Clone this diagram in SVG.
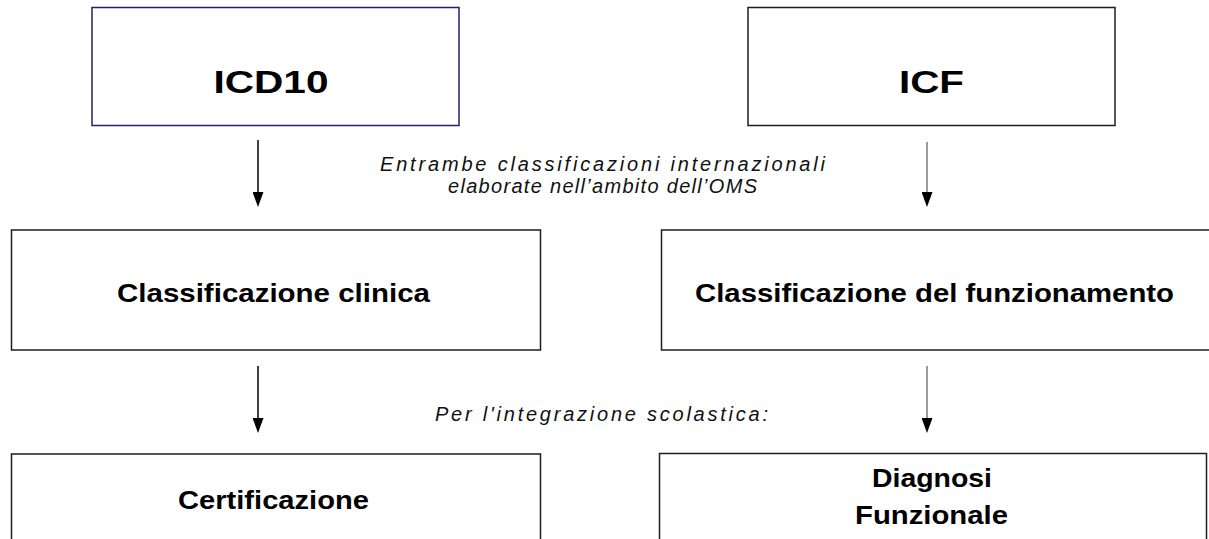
<svg xmlns="http://www.w3.org/2000/svg" width="1209" height="539" viewBox="0 0 1209 539">
  <style>
    .box { fill: #ffffff; stroke: #1e1e1e; stroke-width: 1.5; }
    .navy { stroke: #20206e; }
    .title { font-family: "Liberation Sans", Arial, sans-serif; font-weight: bold; font-size: 32px; fill: #000; text-anchor: middle; }
    .label { font-family: "Liberation Sans", Arial, sans-serif; font-weight: bold; font-size: 25px; fill: #000; text-anchor: middle; }
    .note { font-family: "Liberation Sans", Arial, sans-serif; font-style: italic; font-size: 20px; fill: #111; text-anchor: middle; }
    .conn { stroke: #000; stroke-width: 1.5; fill: none; }
    .gray { stroke: #7a7a7a; }
  </style>
  <defs>
    <marker id="head" viewBox="0 0 15 11" refX="7" refY="5.5" markerWidth="15" markerHeight="11" markerUnits="userSpaceOnUse" orient="auto">
      <path d="M0,0 L15,5.5 L0,11 z" fill="#000"/>
    </marker>
  </defs>
  <rect width="1209" height="539" fill="#ffffff"/>

  <g id="icd10">
    <rect class="box navy" x="92" y="7.5" width="367" height="118"/>
    <text class="title" x="271" y="93" textLength="115" lengthAdjust="spacingAndGlyphs">ICD10</text>
  </g>
  <g id="icf">
    <rect class="box" x="748" y="7.5" width="367" height="118"/>
    <text class="title" x="931.5" y="93" textLength="65" lengthAdjust="spacingAndGlyphs">ICF</text>
  </g>
  <g id="clinica">
    <rect class="box" x="11.5" y="230" width="529" height="120"/>
    <text class="label" x="273.5" y="302" textLength="313" lengthAdjust="spacingAndGlyphs">Classificazione clinica</text>
  </g>
  <g id="funzionamento">
    <rect class="box" x="661.5" y="230" width="580" height="120"/>
    <text class="label" x="934.5" y="302" textLength="479" lengthAdjust="spacingAndGlyphs">Classificazione del funzionamento</text>
  </g>
  <g id="certificazione">
    <rect class="box" x="11.5" y="454" width="529" height="120"/>
    <text class="label" x="273.5" y="509" textLength="191" lengthAdjust="spacingAndGlyphs">Certificazione</text>
  </g>
  <g id="diagnosi">
    <rect class="box" x="659.5" y="453.5" width="547" height="120"/>
    <text class="label" x="932" y="487" textLength="120" lengthAdjust="spacingAndGlyphs">Diagnosi</text>
    <text class="label" x="931.5" y="524" textLength="153" lengthAdjust="spacingAndGlyphs">Funzionale</text>
  </g>

  <g id="notes">
    <text class="note" x="602.5" y="171" textLength="445" lengthAdjust="spacing">Entrambe classificazioni internazionali</text>
    <text class="note" x="602.5" y="193" textLength="309" lengthAdjust="spacing">elaborate nell’ambito dell’OMS</text>
    <text class="note" x="601.5" y="421" textLength="333" lengthAdjust="spacing">Per l'integrazione scolastica:</text>
  </g>

  <g id="connectors">
    <line class="conn" x1="258" y1="140" x2="258" y2="199" marker-end="url(#head)"/>
    <line class="conn gray" x1="927" y1="142" x2="927" y2="199" marker-end="url(#head)"/>
    <line class="conn" x1="258" y1="366" x2="258" y2="425" marker-end="url(#head)"/>
    <line class="conn gray" x1="927" y1="366" x2="927" y2="425" marker-end="url(#head)"/>
  </g>
</svg>
